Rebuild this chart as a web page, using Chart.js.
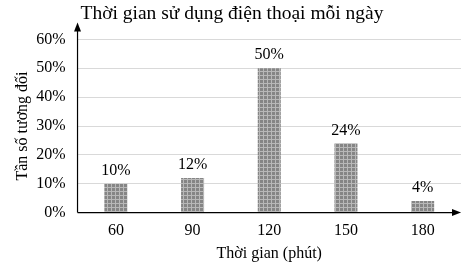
<!DOCTYPE html>
<html>
<head>
<meta charset="utf-8">
<script src="https://cdn.jsdelivr.net/npm/chart.js@4"></script>
<style>
  html, body { margin: 0; padding: 0; background: #fff; }
  #wrap { width: 466px; height: 271px; }
</style>
</head>
<body>
<div id="wrap"><canvas id="bar-Chart"></canvas></div>
<script>
const categories = ["60", "90", "120", "150", "180"];
const values = [10, 12, 50, 24, 4];
const yTicks = [0, 10, 20, 30, 40, 50, 60];

const serif = "'Liberation Serif', 'DejaVu Serif', serif";

// grey grid-like fill like the printed bars
function makePattern() {
  const c = document.createElement("canvas");
  c.width = 4;
  c.height = 4;
  const g = c.getContext("2d");
  g.fillStyle = "#858585";
  g.fillRect(0, 0, 4, 4);
  g.fillStyle = "#b8b8b8";
  g.fillRect(0, 3, 4, 1);
  g.fillRect(3, 0, 1, 4);
  return g.createPattern(c, "repeat");
}

// labels over bars + arrow heads on both axes
const extras = {
  id: "extras",
  afterDatasetsDraw(chart) {
    const { ctx, chartArea } = chart;
    const meta = chart.getDatasetMeta(0);
    ctx.save();
    ctx.fillStyle = "#000";
    ctx.font = "16px " + serif;
    ctx.textAlign = "center";
    ctx.textBaseline = "bottom";
    meta.data.forEach((bar, i) => {
      ctx.fillText(values[i] + "%", bar.x, bar.y - 5);
    });
    const x0 = chartArea.left;
    const y0 = chartArea.bottom;
    const xEnd = chartArea.right;
    ctx.strokeStyle = "#000";
    ctx.lineWidth = 1.2;
    ctx.beginPath();
    ctx.moveTo(x0, y0);
    ctx.lineTo(x0, chartArea.top - 10);
    ctx.moveTo(x0, y0);
    ctx.lineTo(xEnd - 4, y0);
    ctx.stroke();
    ctx.beginPath();
    ctx.moveTo(x0, chartArea.top - 17);
    ctx.lineTo(x0 - 3.5, chartArea.top - 8);
    ctx.lineTo(x0 + 3.5, chartArea.top - 8);
    ctx.closePath();
    ctx.fill();
    ctx.beginPath();
    ctx.moveTo(xEnd, y0);
    ctx.lineTo(xEnd - 9, y0 - 3.5);
    ctx.lineTo(xEnd - 9, y0 + 3.5);
    ctx.closePath();
    ctx.fill();
    ctx.restore();
  },
};

const ctx = document.getElementById("bar-Chart");
new Chart(ctx, {
  type: "bar",
  data: {
    labels: categories,
    datasets: [
      {
        data: values,
        backgroundColor: makePattern(),
        borderWidth: 0,
        barPercentage: 0.3,
        categoryPercentage: 1,
      },
    ],
  },
  options: {
    responsive: true,
    maintainAspectRatio: false,
    animation: false,
    layout: { padding: { top: 0, right: 5, bottom: 8, left: 3 } },
    plugins: {
      legend: { display: false },
      tooltip: { enabled: false },
      title: {
        display: true,
        text: "Thời gian sử dụng điện thoại mỗi ngày",
        color: "#000",
        font: { family: serif, size: 19.5, weight: "normal" },
        padding: { top: 2, bottom: 14 },
      },
    },
    scales: {
      x: {
        grid: { display: false, drawTicks: false },
        border: { display: false },
        ticks: { color: "#000", font: { family: serif, size: 16 }, padding: 9 },
        title: {
          display: true,
          text: "Thời gian (phút)",
          color: "#000",
          font: { family: serif, size: 16 },
          padding: { top: -6, bottom: 0 },
        },
      },
      y: {
        min: 0,
        max: 60,
        afterBuildTicks: (axis) => {
          axis.ticks = yTicks.map((v) => ({ value: v }));
        },
        grid: { color: "#d9d9d9", drawTicks: false },
        border: { display: false },
        ticks: {
          color: "#000",
          font: { family: serif, size: 16 },
          padding: 12,
          callback: (v) => v + "%",
        },
        title: {
          display: true,
          text: "Tần số tương đối",
          color: "#000",
          font: { family: serif, size: 16 },
          padding: { top: 10, bottom: -8 },
        },
      },
    },
  },
  plugins: [extras],
});
</script>
</body>
</html>
